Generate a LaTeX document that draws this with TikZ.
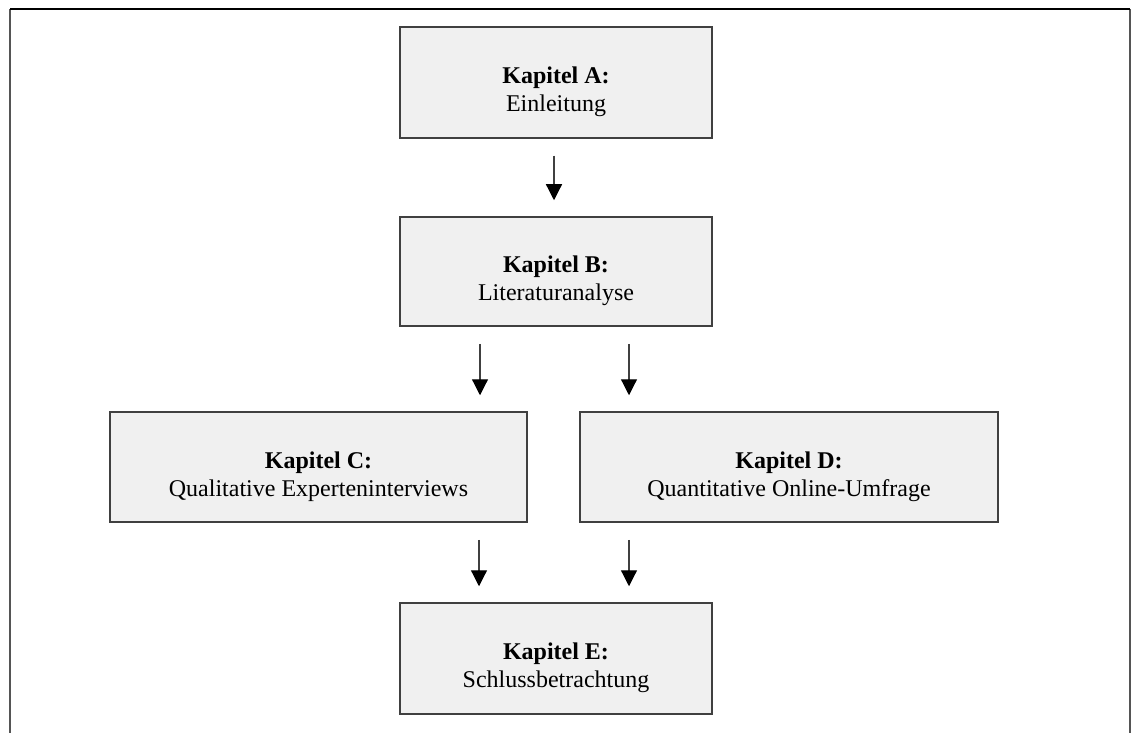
\documentclass[tikz,border=0pt]{standalone}
\usepackage{fontspec}
\setmainfont{Liberation Serif}
\usetikzlibrary{arrows.meta}
\definecolor{boxfill}{HTML}{F0F0F0}
\definecolor{boxline}{HTML}{404040}
\definecolor{frameside}{HTML}{555555}
\newcommand{\lowstrut}{\rule{0pt}{36pt}}
\tikzset{
  chapbox/.style={draw=boxline, line width=1.5pt, fill=boxfill, minimum height=110pt,
    align=center, inner sep=0pt, font=\fontsize{24}{28}\selectfont},
  arr/.style={draw=boxline, line width=1.2pt, -{Triangle[width=16pt,length=16pt,black]},
    shorten <=17pt, shorten >=16pt}
}
\begin{document}
\begin{tikzpicture}[x=1pt,y=-1pt]
\useasboundingbox (0,0) rectangle (1133,733);
\draw[frameside, line width=2.5pt] (10,733) -- (10,9);
\draw[frameside, line width=2.5pt] (1130,733) -- (1130,9);
\draw[black, line width=2.5pt] (10,9) -- (1130,9);
\node[chapbox, minimum width=312pt, minimum height=111pt] (A) at (556,82.5) {\lowstrut\textbf{Kapitel A:}\\Einleitung};
\node[chapbox, minimum width=312pt, minimum height=109pt] (B) at (556,271.5) {\lowstrut\textbf{Kapitel B:}\\Literaturanalyse};
\node[chapbox, minimum width=417pt] (C) at (318.5,467) {\lowstrut\textbf{Kapitel C:}\\Qualitative Experteninterviews};
\node[chapbox, minimum width=418pt] (D) at (789,467) {\lowstrut\textbf{Kapitel D:}\\Quantitative Online-Umfrage};
\node[chapbox, minimum width=312pt, minimum height=111pt] (E) at (556,658.5) {\lowstrut\textbf{Kapitel E:}\\Schlussbetrachtung};
\draw[arr] ([xshift=-2pt]A.south) -- ([xshift=-2pt]B.north);
\draw[arr] ([xshift=-76pt]B.south) -- ([xshift=-76pt]B.south |- C.north);
\draw[arr] ([xshift=73pt]B.south) -- ([xshift=73pt]B.south |- D.north);
\draw[arr] ([xshift=-77pt]E.north |- C.south) -- ([xshift=-77pt]E.north);
\draw[arr] ([xshift=73pt]E.north |- D.south) -- ([xshift=73pt]E.north);
\end{tikzpicture}
\end{document}
